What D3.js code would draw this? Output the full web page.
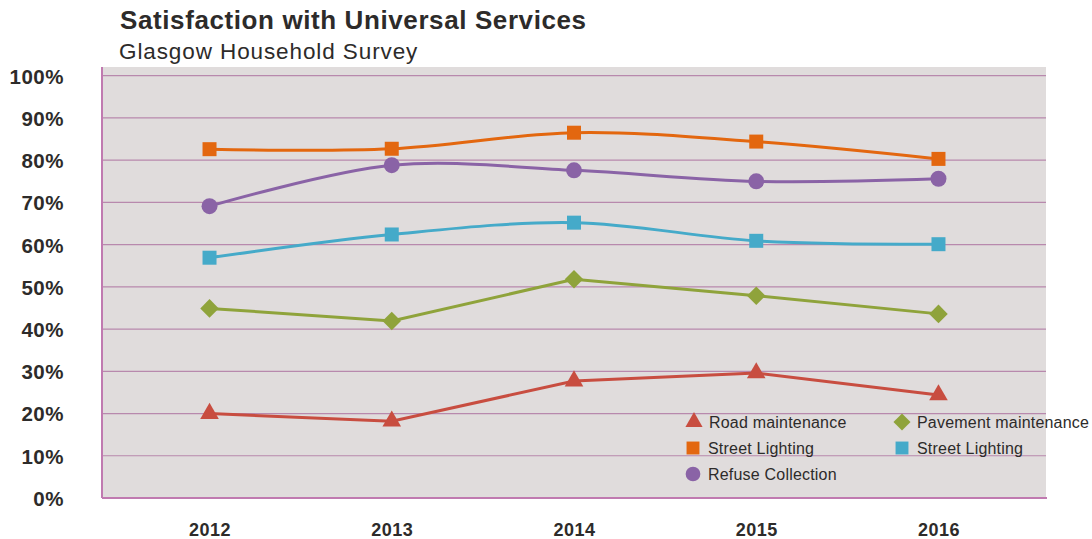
<html>
<head>
<meta charset="utf-8">
<script src="https://d3js.org/d3.v7.min.js"></script>
<style>
body {
  margin: 0;
  background: #fff;
  font-family: "Liberation Sans", Arial, Helvetica, sans-serif;
}
svg text {
  font-family: "Liberation Sans", Arial, Helvetica, sans-serif;
  fill: #2d2b2a;
}
.grid line {
  stroke: #b889ad;
  stroke-width: 1.2;
}
.axis text {
  font-weight: bold;
}
</style>
</head>
<body>
<svg width="1092" height="539"></svg>
<script>

// data
var years = ["2012", "2013", "2014", "2015", "2016"];
var yTicks = [0, 10, 20, 30, 40, 50, 60, 70, 80, 90, 100];

var roadMaintenance     = [20, 18.2, 27.7, 29.6, 24.4];
var pavementMaintenance = [44.9, 41.9, 51.8, 47.9, 43.6];
var streetLightingA     = [82.6, 82.7, 86.5, 84.4, 80.3];
var streetLightingB     = [56.9, 62.4, 65.2, 60.9, 60.1];
var refuseCollection    = [69.1, 78.8, 77.6, 75.0, 75.6];

var series = [
  {name: "Road maintenance", values: roadMaintenance, color: "#c84d40", symbol: d3.symbolTriangle, size: 150, curve: d3.curveLinear},
  {name: "Pavement maintenance", values: pavementMaintenance, color: "#8fa33b", symbol: "diamond", size: 220, curve: d3.curveLinear},
  {name: "Street Lighting", values: streetLightingA, color: "#e3670f", symbol: d3.symbolSquare, size: 196, curve: d3.curveCatmullRom},
  {name: "Street Lighting", values: streetLightingB, color: "#45aac9", symbol: d3.symbolSquare, size: 196, curve: d3.curveCatmullRom},
  {name: "Refuse Collection", values: refuseCollection, color: "#8a63a6", symbol: d3.symbolCircle, size: 200, curve: d3.curveCatmullRom}
];

var svg = d3.select("svg"),
    margin = {top: 67, right: 46, bottom: 41, left: 102},
    width = 1092 - margin.left - margin.right,
    height = 539 - margin.top - margin.bottom;

var x = d3.scalePoint()
    .domain(years)
    .range([margin.left, margin.left + width])
    .padding(0.59);

var y = d3.scaleLinear()
    .domain([0, 100])
    .range([margin.top + height, 75.7]);

function symbolPath(s, size) {
  if (s === "diamond") {
    var r = Math.sqrt(size) / 1.6;
    return "M0," + (-r) + "L" + r + ",0L0," + r + "L" + (-r) + ",0Z";
  }
  return d3.symbol().type(s).size(size)();
}

// titles
svg.append("text")
    .attr("x", 120).attr("y", 29)
    .style("font-size", "26px").style("font-weight", "bold")
    .style("letter-spacing", "0.6px")
    .text("Satisfaction with Universal Services");
svg.append("text")
    .attr("x", 119).attr("y", 59)
    .style("font-size", "22.5px")
    .style("letter-spacing", "0.9px")
    .text("Glasgow Household Survey");

// plot background
svg.append("rect")
    .attr("x", margin.left).attr("y", margin.top)
    .attr("width", width).attr("height", height)
    .attr("fill", "#e0dcdc");

// gridlines
svg.append("g")
    .attr("class", "grid")
    .selectAll("line")
    .data(yTicks.slice(1))
  .enter().append("line")
    .attr("x1", margin.left).attr("x2", margin.left + width)
    .attr("y1", d => y(d)).attr("y2", d => y(d));

// axis lines
svg.append("line")
    .attr("x1", margin.left).attr("x2", margin.left)
    .attr("y1", margin.top).attr("y2", margin.top + height)
    .attr("stroke", "#c07ab0").attr("stroke-width", 2);
svg.append("line")
    .attr("x1", margin.left).attr("x2", margin.left + width + 1)
    .attr("y1", margin.top + height).attr("y2", margin.top + height)
    .attr("stroke", "#c07ab0").attr("stroke-width", 2);

// y labels
var yAxis = svg.append("g")
    .attr("class", "axis")
    .attr("transform", "translate(64,0)")
    .call(d3.axisLeft(y).tickValues(yTicks).tickSize(0).tickPadding(0).tickFormat(d => d + "%"));
yAxis.select(".domain").remove();
yAxis.selectAll("text").style("font-size", "20.5px").style("letter-spacing", "0.5px").attr("dy", "0.36em");

// x labels
var xAxis = svg.append("g")
    .attr("class", "axis")
    .attr("transform", "translate(0," + (margin.top + height) + ")")
    .call(d3.axisBottom(x).tickSize(0).tickPadding(0));
xAxis.select(".domain").remove();
xAxis.selectAll("text").style("font-size", "18px").style("letter-spacing", "0.5px").attr("y", 38).attr("dy", 0);

// lines + markers
series.forEach(function(s) {
  var line = d3.line()
      .x((d, i) => x(years[i]))
      .y(d => y(d))
      .curve(s.curve);

  svg.append("path")
      .datum(s.values)
      .attr("fill", "none")
      .attr("stroke", s.color)
      .attr("stroke-width", 3)
      .attr("d", line);

  svg.append("g").selectAll("path")
      .data(s.values)
    .enter().append("path")
      .attr("transform", (d, i) => "translate(" + x(years[i]) + "," + y(d) + ")")
      .attr("fill", s.color)
      .attr("d", symbolPath(s.symbol, s.size));
});

// legend
var legendPos = [[694, 422], [902, 422], [693, 448], [902, 448], [693, 474]];
var legend = svg.append("g").selectAll("g")
    .data(series)
  .enter().append("g")
    .attr("transform", (d, i) => "translate(" + legendPos[i][0] + "," + legendPos[i][1] + ")");
legend.append("path")
    .attr("fill", d => d.color)
    .attr("d", d => symbolPath(d.symbol, d.size * 0.85));
legend.append("text")
    .attr("x", 15).attr("dy", "0.35em")
    .style("font-size", "16px")
    .style("letter-spacing", "0.2px")
    .text(d => d.name);

</script>
</body>
</html>
